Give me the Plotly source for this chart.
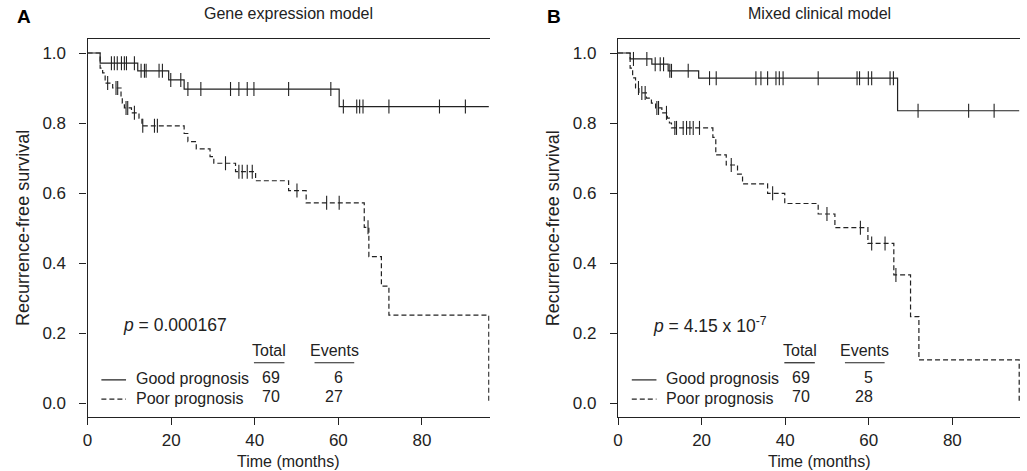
import numpy as np
import plotly.graph_objects as go

# ---------------- data ----------------
# Panel A: Gene expression model
gene_good_t = [0, 3.0, 12.0, 19.4, 23.1, 60.2, 96.0]
gene_good_s = [1.0, 0.971, 0.949, 0.923, 0.897, 0.847, 0.847]
gene_good_cens = [5.7, 6.4, 7.1, 8.1, 8.8, 9.3, 11.2, 12.8, 13.6, 14.0, 17.1, 17.9,
                  19.9, 22.3, 24.0, 27.1, 34.2, 36.2, 38.2, 39.8, 48.1, 58.2, 61.2,
                  64.4, 65.1, 65.9, 72.1, 84.2, 90.4]

gene_poor_t = [0, 3.0, 3.6, 4.2, 6.0, 8.0, 8.3, 8.8, 10.5, 12.3, 13.0, 23.1, 24.0,
               26.0, 29.3, 30.2, 35.4, 40.2, 48.1, 52.3, 66.2, 67.3, 70.3, 72.1, 96.0]
gene_poor_s = [1.0, 0.957, 0.943, 0.914, 0.900, 0.871, 0.857, 0.843, 0.829, 0.814,
               0.792, 0.770, 0.747, 0.726, 0.704, 0.685, 0.661, 0.635, 0.607, 0.572,
               0.502, 0.418, 0.334, 0.251, 0.0]
gene_poor_cens = [4.8, 6.8, 7.2, 9.2, 9.6, 11.2, 13.2, 16.0, 16.7, 33.0, 36.2, 37.0,
                  38.2, 39.4, 50.1, 57.2, 60.2, 67.1]

# Panel B: Mixed clinical model
clin_good_t = [0, 2.9, 8.1, 12.0, 19.3, 66.9, 96.0]
clin_good_s = [1.0, 0.983, 0.968, 0.949, 0.928, 0.835, 0.835]
clin_good_cens = [3.7, 6.9, 8.9, 10.1, 10.9, 12.4, 12.8, 16.8, 21.9, 23.5, 33.0, 34.2,
                  35.8, 37.8, 38.6, 39.5, 47.9, 57.2, 57.8, 59.9, 60.7, 65.1, 65.9,
                  71.8, 83.9, 90.0]

clin_poor_t = [0, 2.9, 3.5, 4.2, 5.0, 6.8, 8.0, 9.0, 10.5, 11.8, 12.3, 12.8, 22.7,
               23.4, 25.9, 28.6, 29.8, 35.8, 39.9, 47.9, 51.9, 59.8, 66.0, 70.0, 72.0, 96.0]
clin_poor_s = [1.0, 0.957, 0.929, 0.900, 0.886, 0.871, 0.857, 0.843, 0.829, 0.814,
               0.800, 0.786, 0.759, 0.709, 0.680, 0.654, 0.626, 0.599, 0.570, 0.540,
               0.501, 0.456, 0.366, 0.247, 0.123, 0.0]
clin_poor_cens = [4.9, 5.7, 6.5, 9.3, 9.7, 11.6, 13.6, 14.0, 15.6, 16.4, 17.2, 18.0,
                  19.5, 27.1, 37.0, 50.0, 58.0, 60.7, 63.9, 66.5]

panel_titles = ["Gene expression model", "Mixed clinical model"]
panel_letters = ["A", "B"]
p_texts = ["<i>p</i> = 0.000167", "<i>p</i> = 4.15 x 10<sup>-7</sup>"]
group_names = ["Good prognosis", "Poor prognosis"]
totals = [[69, 70], [69, 70]]
events = [[6, 27], [5, 28]]
x_ticks = [0, 20, 40, 60, 80]
y_ticks = [0.0, 0.2, 0.4, 0.6, 0.8, 1.0]

# ---------------- figure ----------------
FONT = "Arial, Liberation Sans, sans-serif"
INK = "#222222"
W, H = 1027, 471

fig = go.Figure()


def step_val(t, s, x):
    t = np.asarray(t)
    s = np.asarray(s)
    idx = np.searchsorted(t, x, side="right") - 1
    return s[np.clip(idx, 0, len(s) - 1)]


panels = [
    (gene_good_t, gene_good_s, gene_good_cens, gene_poor_t, gene_poor_s, gene_poor_cens),
    (clin_good_t, clin_good_s, clin_good_cens, clin_poor_t, clin_poor_s, clin_poor_cens),
]

x_domains = [[83 / W, 487 / W], [616 / W, 1020 / W]]
y_domain = [1 - 417 / H, 1 - 39 / H]
XR = [0, 96.2]
YR = [-0.04, 1.04]

for i, (gt, gs, gc, pt, ps, pc) in enumerate(panels):
    xa = "x" if i == 0 else "x2"
    ya = "y" if i == 0 else "y2"
    for t, s, c, dash in [(gt, gs, gc, "solid"), (pt, ps, pc, "5px,3px")]:
        fig.add_trace(go.Scatter(x=t, y=s, mode="lines", line_shape="hv",
                                 line=dict(color=INK, width=1.2, dash=dash),
                                 xaxis=xa, yaxis=ya, showlegend=False, hoverinfo="skip"))
        fig.add_trace(go.Scatter(x=c, y=step_val(t, s, c), mode="markers",
                                 marker=dict(symbol="line-ns", size=10,
                                             line=dict(color=INK, width=1.1)),
                                 xaxis=xa, yaxis=ya, showlegend=False, hoverinfo="skip"))

axis_common = dict(showline=True, linecolor=INK, linewidth=1.3,
                   ticks="outside", ticklen=7, tickwidth=1.3, tickcolor=INK,
                   showgrid=False, zeroline=False,
                   tickfont=dict(family=FONT, size=17, color=INK))
xaxis_style = dict(mirror=True, **axis_common)
yaxis_style = dict(mirror=False, ticklabelstandoff=10, **axis_common)

fig.update_layout(
    width=W, height=H, margin=dict(l=0, r=0, t=0, b=0),
    paper_bgcolor="white", plot_bgcolor="white",
    xaxis=dict(domain=x_domains[0], range=XR, tickvals=x_ticks, anchor="y", **xaxis_style),
    yaxis=dict(domain=y_domain, range=YR, tickvals=y_ticks, tickformat=".1f", anchor="x", **yaxis_style),
    xaxis2=dict(domain=x_domains[1], range=XR, tickvals=x_ticks, anchor="y2", **xaxis_style),
    yaxis2=dict(domain=y_domain, range=YR, tickvals=y_ticks, tickformat=".1f", anchor="x2", **yaxis_style),
)

annotations = []
shapes = []
for i in range(2):
    xr = "x" if i == 0 else "x2"
    yr = "y" if i == 0 else "y2"
    xc = (x_domains[i][0] + x_domains[i][1]) / 2
    # title
    annotations.append(dict(text=panel_titles[i], xref="paper", yref="paper",
                            x=xc, y=1 - 14 / H, xanchor="center", yanchor="middle",
                            showarrow=False, font=dict(family=FONT, size=16, color=INK)))
    # letter
    annotations.append(dict(text="<b>" + panel_letters[i] + "</b>", xref="paper", yref="paper",
                            x=(10 if i == 0 else 543) / W, y=1 - 17 / H,
                            xanchor="left", yanchor="middle", showarrow=False,
                            font=dict(family=FONT, size=19, color="#000")))
    # axis titles
    annotations.append(dict(text="Time (months)", xref="paper", yref="paper",
                            x=xc, y=1 - 461 / H, xanchor="center", yanchor="middle",
                            showarrow=False, font=dict(family=FONT, size=16, color=INK)))
    annotations.append(dict(text="Recurrence-free survival", xref="paper", yref="paper",
                            x=(18 if i == 0 else 551) / W, y=(y_domain[0] + y_domain[1]) / 2,
                            xanchor="center", yanchor="middle", textangle=-90,
                            showarrow=False, font=dict(family=FONT, size=18, color=INK)))
    # p-value
    annotations.append(dict(text=p_texts[i], xref=xr, yref=yr, x=7.9, y=0.223,
                            xanchor="left", yanchor="middle", showarrow=False,
                            font=dict(family=FONT, size=17.5, color=INK)))
    # table headers
    annotations.append(dict(text="Total", xref=xr, yref=yr, x=43.5, y=0.149,
                            xanchor="center", yanchor="middle", showarrow=False,
                            font=dict(family=FONT, size=16, color=INK)))
    annotations.append(dict(text="Events", xref=xr, yref=yr, x=59.0, y=0.149,
                            xanchor="center", yanchor="middle", showarrow=False,
                            font=dict(family=FONT, size=16, color=INK)))
    shapes.append(dict(type="line", xref=xr, yref=yr, x0=39.8, x1=47.1, y0=0.115, y1=0.115,
                       line=dict(color=INK, width=1.2)))
    shapes.append(dict(type="line", xref=xr, yref=yr, x0=54.3, x1=63.8, y0=0.115, y1=0.115,
                       line=dict(color=INK, width=1.2)))
    for j, (yy, dash) in enumerate([(0.066, "solid"), (0.011, "5px,3px")]):
        shapes.append(dict(type="line", xref=xr, yref=yr, x0=3.3, x1=9.2, y0=yy, y1=yy,
                           line=dict(color=INK, width=1.2, dash=dash)))
        annotations.append(dict(text=group_names[j], xref=xr, yref=yr, x=11.1, y=yy + 0.003,
                                xanchor="left", yanchor="middle", showarrow=False,
                                font=dict(family=FONT, size=16, color=INK)))
        annotations.append(dict(text=str(totals[i][j]), xref=xr, yref=yr, x=43.9, y=yy + 0.008,
                                xanchor="center", yanchor="middle", showarrow=False,
                                font=dict(family=FONT, size=16, color=INK)))
        annotations.append(dict(text=str(events[i][j]), xref=xr, yref=yr, x=61.5, y=yy + 0.008,
                                xanchor="right", yanchor="middle", showarrow=False,
                                font=dict(family=FONT, size=16, color=INK)))

fig.update_layout(annotations=annotations, shapes=shapes)
fig.write_html("out.html", config={"displayModeBar": False},
               post_script="document.body.style.margin='0';")
